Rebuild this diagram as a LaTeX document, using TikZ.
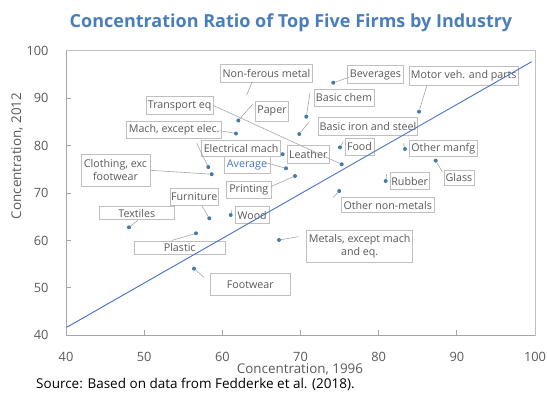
\documentclass[tikz,border=0pt]{standalone}
\usepackage{fontspec}
\setmainfont{Open Sans}
\definecolor{ttlblue}{RGB}{74,126,187}
\definecolor{dotblue}{RGB}{65,125,168}
\definecolor{fitblue}{RGB}{68,114,196}
\definecolor{boxgray}{RGB}{191,191,191}
\definecolor{txtgray}{RGB}{89,89,89}
\definecolor{axgray}{RGB}{166,166,166}
\tikzset{
  lbl/.style={draw=boxgray, line width=0.8pt, text=txtgray, inner sep=0pt, align=center, font=\fontsize{10.7}{13}\selectfont},
  dat/.style={circle, fill=dotblue, inner sep=0pt, minimum size=4pt},
  lead/.style={draw=axgray, line width=0.6pt},
  tick/.style={text=txtgray, font=\fontsize{12.8}{14}\selectfont},
}

\begin{document}
\begin{tikzpicture}[x=1pt,y=-1pt]
	%%%%% START %%%%%
	\useasboundingbox (0,0) rectangle (547,392);

	\node[font=\bfseries\fontsize{18}{20}\selectfont, text=ttlblue] (title) at (291,22.5) {Concentration Ratio of Top Five Firms by Industry};

	\draw[boxgray, line width=0.8pt] (66,50.7) rectangle (535,335.3);
	\draw[axgray, line width=0.8pt] (66,50.7) -- (66,335.3) -- (535,335.3);

	\foreach \v [count=\i from 0] in {40,50,...,100} {
		\node[tick, anchor=east] (ylab\i) at (52,335.3-\i*47.43) {\v};
		\node[tick] (xlab\i) at (66+\i*78.17,356.7) {\v};
	}
	\foreach \i in {1,...,5} {
		\draw[axgray, line width=0.8pt] (66,335.3-\i*47.43) -- (71,335.3-\i*47.43);
		\draw[axgray, line width=0.8pt] (66+\i*78.17,335.3) -- (66+\i*78.17,330.3);
	}

	\node[text=txtgray, font=\fontsize{13.4}{15}\selectfont, rotate=90] (ytitle) at (17,156) {Concentration, 2012};
	\node[text=txtgray, font=\fontsize{13.4}{15}\selectfont] (xtitle) at (300,369.5) {Concentration, 1996};
	\node[anchor=west, inner sep=0pt, font=\fontsize{13.5}{15}\selectfont] (source) at (36,384.5) {Source: Based on data from Fedderke et al. (2018).};

	% labels
	\node[lbl, minimum width=92.7pt, minimum height=18.7pt] (nonfer) at (266.4,73.4) {Non-ferous metal};
	\node[lbl, minimum width=55.6pt, minimum height=17.6pt] (bever) at (375.5,74.5) {Beverages};
	\node[lbl, minimum width=109pt, minimum height=18.3pt] (motor) at (463.8,75.8) {Motor veh. and parts};
	\node[lbl, minimum width=66.7pt, minimum height=17.7pt] (transp) at (179.7,105.5) {Transport eq};
	\node[lbl, minimum width=33pt, minimum height=20pt] (paper) at (272,111) {Paper};
	\node[lbl, minimum width=60pt, minimum height=17.7pt] (bchem) at (344,97.8) {Basic chem};
	\node[lbl, minimum width=95pt, minimum height=17pt] (mach) at (174.2,129.5) {Mach, except elec.};
	\node[lbl, minimum width=99.4pt, minimum height=17.7pt] (biron) at (368,126.2) {Basic iron and steel};
	\node[lbl, minimum width=78.8pt, minimum height=16.7pt] (elec) at (241.1,148.3) {Electrical mach};
	\node[lbl, minimum width=42pt, minimum height=17.8pt] (leather) at (308.3,154.4) {Leather};
	\node[lbl, minimum width=29pt, minimum height=16.7pt] (food) at (359.5,146.7) {Food};
	\node[lbl, minimum width=68pt, minimum height=16.7pt] (othmanf) at (443.3,148.3) {Other manfg};
	\node[lbl, minimum width=69pt, minimum height=32.7pt] (cloth) at (115.5,170.3) {Clothing, exc\\footwear};
	\node[lbl, minimum width=46pt, minimum height=16.5pt, text=fitblue] (avg) at (247,164.8) {Average};
	\node[lbl, minimum width=44.3pt, minimum height=17.7pt] (print) at (248.8,189.8) {Printing};
	\node[lbl, minimum width=30pt, minimum height=15.7pt] (glass) at (459,177.8) {Glass};
	\node[lbl, minimum width=39.3pt, minimum height=16.6pt] (rubber) at (409.7,181) {Rubber};
	\node[lbl, minimum width=48.3pt, minimum height=17pt] (furn) at (194.2,196.5) {Furniture};
	\node[lbl, minimum width=75pt, minimum height=12.6pt] (textil) at (136.8,213) {Textiles};
	\node[lbl, minimum width=34.3pt, minimum height=16.6pt] (wood) at (252.2,215) {Wood};
	\node[lbl, minimum width=93.3pt, minimum height=15.4pt] (othnon) at (387.7,205) {Other non-metals};
	\node[lbl, minimum width=90.7pt, minimum height=13pt] (plastic) at (179.7,247.5) {Plastic};
	\node[lbl, minimum width=106pt, minimum height=32.3pt] (metals) at (359.7,246.2) {Metals, except mach\\and eq.};
	\node[lbl, minimum width=79.3pt, minimum height=22pt] (footw) at (250.3,284.3) {Footwear};

	% points
	\node[dat] (dpaper) at (238.3,120.5) {};
	\node[dat] (dmach) at (236,133.5) {};
	\node[dat] (delec) at (208.3,167) {};
	\node[dat] (dcloth) at (211.7,174.2) {};
	\node[dat] (dleather) at (282.7,154.2) {};
	\node[dat] (davg) at (286,168.3) {};
	\node[dat] (dprint) at (295,176) {};
	\node[dat] (dbchem) at (306.3,116.7) {};
	\node[dat] (dbiron) at (299.3,134) {};
	\node[dat] (dbever) at (333.3,82.7) {};
	\node[dat] (dmotor) at (419,111.7) {};
	\node[dat] (dfood) at (340,147.3) {};
	\node[dat] (dtransp) at (341.7,164.3) {};
	\node[dat] (dothmanf) at (405,149) {};
	\node[dat] (dglass) at (435.7,160.7) {};
	\node[dat] (drubber) at (385.7,181) {};
	\node[dat] (dothnon) at (339.2,191) {};
	\node[dat] (dmetals) at (279,240) {};
	\node[dat] (dfootw) at (194,268.7) {};
	\node[dat] (dplastic) at (196,233.3) {};
	\node[dat] (dtextil) at (129,227.3) {};
	\node[dat] (dfurn) at (209.3,218.3) {};
	\node[dat] (dwood) at (230.7,215) {};

	% leader lines
	\coordinate (nonfer-a) at (252.3,81.7);
	\coordinate (nonfer-b) at (246.7,95);
	\coordinate (paper-a) at (252.7,104.3);
	\coordinate (mach-a) at (220,130.7);
	\coordinate (elec-a) at (196.7,143.3);
	\coordinate (avg-a) at (266,162.7);
	\coordinate (print-a) at (271,186.5);
	\coordinate (bchem-a) at (310,92.7);
	\coordinate (biron-a) at (309.3,121.7);
	\coordinate (bever-a) at (349,77.3);
	\coordinate (motor-a) at (426.7,86);
	\coordinate (food-a) at (343.3,141.7);
	\coordinate (othmanf-a) at (403.3,143.3);
	\coordinate (glass-a) at (442.3,171.7);
	\coordinate (rubber-a) at (386.7,174);
	\coordinate (othnon-a) at (333.3,197.3);
	\coordinate (metals-a) at (298.3,236.7);
	\coordinate (footw-a) at (204,277.3);
	\coordinate (plastic-a) at (171.7,240.5);
	\coordinate (textil-a) at (138.3,220);
	\coordinate (furn-a) at (201.7,205.5);
	\coordinate (wood-a) at (232,210);

	\draw[lead] (nonfer-a) -- (nonfer-b);
	\draw[lead] (paper-a) -- (dpaper);
	\draw[lead] (mach-a) -- (dmach);
	\draw[lead] (elec-a) -- (delec);
	\draw[lead] (cloth.east) -- (dcloth);
	\draw[lead] (avg-a) -- (davg);
	\draw[lead] (print-a) -- (dprint);
	\draw[lead] (bchem-a) -- (dbchem);
	\draw[lead] (biron-a) -- (dbiron);
	\draw[lead] (bever-a) -- (dbever);
	\draw[lead] (motor-a) -- (dmotor);
	\draw[lead] (food-a) -- (dfood);
	\draw[lead] (transp.east) -- (dtransp);
	\draw[lead] (othmanf-a) -- (dothmanf);
	\draw[lead] (glass-a) -- (dglass);
	\draw[lead] (rubber-a) -- (drubber);
	\draw[lead] (othnon-a) -- (dothnon);
	\draw[lead] (metals-a) -- (dmetals);
	\draw[lead] (footw-a) -- (dfootw);
	\draw[lead] (plastic-a) -- (dplastic);
	\draw[lead] (textil-a) -- (dtextil);
	\draw[lead] (furn-a) -- (dfurn);
	\draw[lead] (wood-a) -- (dwood);

	% fitted line
	\coordinate (fit-a) at (66.7,327.3);
	\coordinate (fit-b) at (531.7,61.7);
	\draw[fitblue, line width=0.9pt] (fit-a) -- (fit-b);
	%%%%% END %%%%%
\end{tikzpicture}
\end{document}
